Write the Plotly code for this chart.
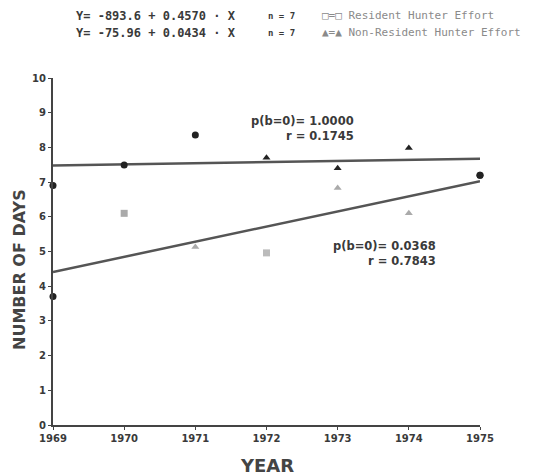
import numpy as np
import plotly.graph_objects as go

years = [1969, 1970, 1971, 1972, 1973, 1974, 1975]
upper_days = [6.9, 7.49, 8.36, 7.7, 7.4, 7.98, 7.2]
upper_symbols = ["circle", "circle", "circle", "triangle-up", "triangle-up", "triangle-up", "circle"]
lower_days = [3.7, 6.1, 5.13, 4.96, 6.83, 6.1, 7.2]
lower_symbols = ["circle", "square", "triangle-up", "square", "triangle-up", "triangle-up", "circle"]
lower_colors = ["#222", "#aaa", "#aaa", "#bbb", "#aaa", "#aaa", "#222"]
y_ticks = list(range(0, 11))
x_ticks = years

eq_lines = [
    ("Y= -893.6 + 0.4570 · X", "n = 7", "□=□", "Resident Hunter Effort"),
    ("Y= -75.96 + 0.0434 · X", "n = 7", "▲=▲", "Non-Resident Hunter Effort"),
]
stats_upper = ["p(b=0)= 1.0000", "r = 0.1745"]
stats_lower = ["p(b=0)= 0.0368", "r = 0.7843"]

TXT = "#3a3a3a"
FONT = "DejaVu Sans"
MONO = "DejaVu Sans Mono"


def px(xp):
    return (xp - 53) / 427


def py(yp):
    return (425 - yp) / 347


fig = go.Figure()

# regression lines fitted from the data
for ys in (upper_days, lower_days):
    b, a = np.polyfit(years, ys, 1)
    xs = [years[0], years[-1]]
    fig.add_trace(go.Scatter(x=xs, y=[a + b * x for x in xs], mode="lines",
                             line=dict(color="#555", width=2.5), hoverinfo="skip",
                             showlegend=False, cliponaxis=False))

fig.add_trace(go.Scatter(x=years, y=lower_days, mode="markers", showlegend=False,
                         cliponaxis=False,
                         marker=dict(symbol=lower_symbols, color=lower_colors, size=7)))
fig.add_trace(go.Scatter(x=years, y=upper_days, mode="markers", showlegend=False,
                         cliponaxis=False,
                         marker=dict(symbol=upper_symbols, color="#222", size=7)))

# header equations
for i, (eq, n, sym, lab) in enumerate(eq_lines):
    yy = 16 + i * 17
    fig.add_annotation(xref="paper", yref="paper", x=px(74), y=py(yy),
                       text=eq, showarrow=False, xanchor="left", yanchor="middle",
                       font=dict(family=MONO, size=12, color=TXT, weight="bold"))
    fig.add_annotation(xref="paper", yref="paper", x=px(266), y=py(yy),
                       text=n, showarrow=False, xanchor="left", yanchor="middle",
                       font=dict(family=MONO, size=9, color=TXT, weight="bold"))
    fig.add_annotation(xref="paper", yref="paper", x=px(320), y=py(yy),
                       text=sym + " " + lab, showarrow=False, xanchor="left", yanchor="middle",
                       font=dict(family=MONO, size=11, color="#8a8a8a"))

# stats annotations
for lines, x_right, y0 in ((stats_upper, 356, 121), (stats_lower, 438, 246)):
    for j, t in enumerate(lines):
        fig.add_annotation(xref="paper", yref="paper", x=px(x_right),
                           y=py(y0 + 15 * j), text=t, showarrow=False,
                           xanchor="right", yanchor="middle",
                           font=dict(family=FONT, size=11.5, color=TXT, weight="bold"))

# axis titles
fig.add_annotation(xref="paper", yref="paper", x=px(267), y=py(465), text="YEAR",
                   showarrow=False, xanchor="center", yanchor="middle",
                   font=dict(family=FONT, size=18, color="#444", weight="bold"))
fig.add_annotation(xref="paper", yref="paper", x=px(19), y=py(270), text="NUMBER OF DAYS",
                   textangle=-90, showarrow=False, xanchor="center", yanchor="middle",
                   font=dict(family=FONT, size=16, color="#444", weight="bold"))

fig.update_layout(
    width=545, height=476,
    margin=dict(l=45, r=73, t=70, b=59),
    paper_bgcolor="white", plot_bgcolor="white",
    font=dict(family=FONT, color=TXT),
    xaxis=dict(range=[1969, 1975], tickvals=x_ticks, ticktext=[str(v) for v in x_ticks],
               showgrid=False, zeroline=False, showline=True, linecolor="#444", linewidth=2,
               ticks="outside", ticklen=3, tickcolor="#444",
               tickfont=dict(family=FONT, size=10, color=TXT, weight="bold")),
    yaxis=dict(range=[0, 10], tickvals=y_ticks, showgrid=False, zeroline=False,
               showline=True, linecolor="#444", linewidth=2,
               ticks="outside", ticklen=3, tickcolor="#444",
               tickfont=dict(family=FONT, size=10, color=TXT, weight="bold")),
)

fig.write_html("out.html")
